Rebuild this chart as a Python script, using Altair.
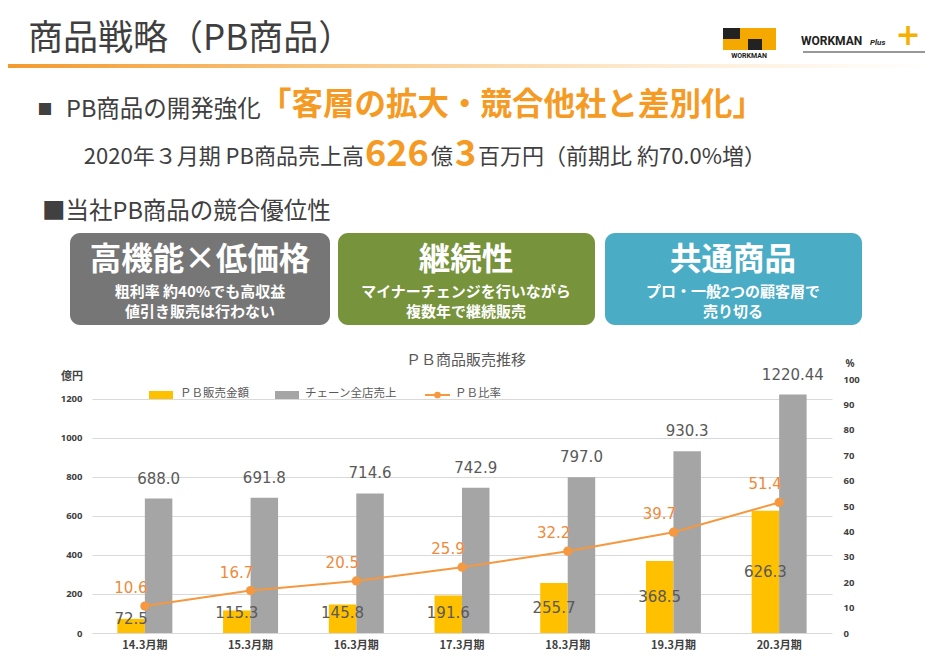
import altair as alt
import pandas as pd

# ---------------- data ----------------
periods = ["14.3月期", "15.3月期", "16.3月期", "17.3月期", "18.3月期", "19.3月期", "20.3月期"]
pb_sales = [72.5, 115.3, 145.8, 191.6, 255.7, 368.5, 626.3]          # 億円
chain_sales = [688.0, 691.8, 714.6, 742.9, 797.0, 930.3, 1220.44]    # 億円
pb_ratio = [10.6, 16.7, 20.5, 25.9, 32.2, 39.7, 51.4]                # %
series_names = ["ＰＢ販売金額", "チェーン全店売上", "ＰＢ比率"]
left_ticks = [0, 200, 400, 600, 800, 1000, 1200]
right_ticks = [0, 10, 20, 30, 40, 50, 60, 70, 80, 90, 100]

JP = "Noto Sans CJK JP"
NUM = "DejaVu Sans"
YELLOW = "#FFC000"
GRAY = "#A5A5A5"
ORANGE_LINE = "#F5983F"
ORANGE_TXT = "#EE8A3A"
HEAD_ORANGE = "#F59A23"
DARK = "#404040"

bars_df = pd.DataFrame(
    [{"period": p, "series": series_names[0], "value": v, "label": str(v)} for p, v in zip(periods, pb_sales)]
    + [{"period": p, "series": series_names[1], "value": v, "label": str(v)} for p, v in zip(periods, chain_sales)]
)
ratio_df = pd.DataFrame({"period": periods, "ratio": pb_ratio})
one = pd.DataFrame({"k": [0]})

# plot area origin on the page
OX, OY = 92, 379


def px(x):
    return x - OX


def py(y):
    return y - OY


def txt(s, x, y, size, color=DARK, weight="normal", align="left", font=JP, baseline="middle", style="normal"):
    return alt.Chart(one).mark_text(
        text=s, fontSize=size, color=color, fontWeight=weight, align=align,
        baseline=baseline, font=font, fontStyle=style
    ).encode(x=alt.value(px(x)), y=alt.value(py(y)))


def box(x1, x2, y1, y2, color, radius=0):
    return alt.Chart(one).mark_rect(color=color, cornerRadius=radius).encode(
        x=alt.value(px(x1)), x2=alt.value(px(x2)), y=alt.value(py(y1)), y2=alt.value(py(y2))
    )


X = alt.X(
    "period:N", sort=periods,
    scale=alt.Scale(paddingInner=0.48, paddingOuter=0.24),
    axis=alt.Axis(title=None, labelFont=JP, labelFontSize=11, labelFontWeight="bold",
                  labelColor=DARK, labelPadding=6, labelAngle=0, domain=False, ticks=False),
)
XO = alt.XOffset("series:N", sort=series_names[:2], scale=alt.Scale(paddingInner=0, paddingOuter=0))

Y_left_scale = alt.Scale(domain=[0, 1300], nice=False)

bars = alt.Chart(bars_df).mark_bar().encode(
    x=X, xOffset=XO,
    y=alt.Y("value:Q", scale=Y_left_scale,
            axis=alt.Axis(values=left_ticks, format="d", title=None, grid=True, gridColor="#D9D9D9",
                          domain=False, ticks=False, labelPadding=10, labelFont="Noto Sans",
                          labelFontSize=9.5, labelFontWeight="bold", labelColor=DARK, orient="left")),
    color=alt.Color("series:N", scale=alt.Scale(domain=series_names[:2], range=[YELLOW, GRAY]), legend=None),
)

pb_labels = alt.Chart(bars_df).transform_filter(
    alt.datum.series == series_names[0]
).transform_calculate(
    ly="max(datum.value / 2, min(datum.value, 100))"
).mark_text(font=NUM, fontSize=15, color="#595959", baseline="middle").encode(
    x=X, xOffset=XO, y=alt.Y("ly:Q", scale=Y_left_scale), text="label:N"
)

chain_labels = alt.Chart(bars_df).transform_filter(
    alt.datum.series == series_names[1]
).mark_text(font=NUM, fontSize=15, color="#595959", baseline="middle", dy=-20).encode(
    x=X, xOffset=XO, y=alt.Y("value:Q", scale=Y_left_scale), text="label:N"
)

bar_group = alt.layer(bars, pb_labels, chain_labels)

Y_right = alt.Y("ratio:Q", scale=alt.Scale(domain=[0, 100], nice=False),
                axis=alt.Axis(values=right_ticks, title=None, grid=False, domain=False, ticks=False,
                              labelPadding=11, labelFont="Noto Sans", labelFontSize=9.5,
                              labelFontWeight="bold", labelColor=DARK, orient="right"))

line = alt.Chart(ratio_df).mark_line(color=ORANGE_LINE, strokeWidth=2).encode(x=X, y=Y_right)
pts = alt.Chart(ratio_df).mark_point(color=ORANGE_LINE, filled=True, opacity=1, size=85).encode(x=X, y=Y_right)
ratio_labels = alt.Chart(ratio_df).mark_text(
    font=NUM, fontSize=15, color=ORANGE_TXT, dx=-14, dy=-18, baseline="middle"
).encode(x=X, y=Y_right, text=alt.Text("ratio:Q", format=".1f"))

line_group = alt.layer(line, pts, ratio_labels)

# ---------------- slide decorations ----------------
grad = alt.Chart(one).mark_rect(
    color=alt.Gradient(gradient="linear", x1=0, x2=1, y1=0, y2=0, stops=[
        alt.GradientStop(color="#F39A2E", offset=0),
        alt.GradientStop(color="#F9C784", offset=0.35),
        alt.GradientStop(color="#FDEBD2", offset=0.7),
        alt.GradientStop(color="#FFFFFF", offset=1),
    ])
).encode(x=alt.value(px(8)), x2=alt.value(px(929)), y=alt.value(py(64)), y2=alt.value(py(68)))

deco = [
    grad,
    txt("商品戦略（PB商品）", 28, 39, 35, color="#3F3F3F"),
    # logos (approximation)
    box(723, 776, 28, 50, "#F5A800"),
    box(723, 740, 28, 39, "#222222"),
    box(748, 762, 39, 50, "#222222"),
    txt("WORKMAN", 749, 56, 7, color="#222222", weight="bold", align="center", font="Roboto"),
    txt("WORKMAN", 801, 41, 12, color="#222222", weight="bold", font="Roboto"),
    txt("Plus", 870, 43, 8, color="#222222", weight="bold", style="italic", font="Roboto"),
    txt("+", 908, 36, 30, color="#F5B000", weight="bold", align="center", font="DejaVu Sans"),
    alt.Chart(one).mark_rule(color="#333333", strokeWidth=1.2).encode(
        x=alt.value(px(803)), x2=alt.value(px(925)), y=alt.value(py(52))),
    # headline
    txt("■", 45, 110, 15, align="center"),
    txt("PB商品の開発強化", 66, 110, 23.5),
    txt("「客層の拡大・競合他社と差別化」", 260, 106, 31.5, color=HEAD_ORANGE, weight="bold"),
    txt("2020年３月期  PB商品売上高", 364, 164, 22, align="right", baseline="alphabetic"),
    txt("626", 365, 166, 36, color=HEAD_ORANGE, weight="bold", baseline="alphabetic"),
    txt("億", 431, 164, 22, baseline="alphabetic"),
    txt("3", 455, 166, 36, color=HEAD_ORANGE, weight="bold", baseline="alphabetic"),
    txt("百万円（前期比  約70.0%増）", 478, 164, 22, baseline="alphabetic"),
    txt("■当社PB商品の競合優位性", 42, 212, 23.5),
    # three boxes
    box(70, 330, 233, 325, "#767676", 10),
    box(338, 595, 233, 325, "#77933C", 10),
    box(605, 862, 233, 325, "#4BACC6", 10),
    txt("高機能×低価格", 200, 261, 31.5, color="white", weight="bold", align="center"),
    txt("粗利率 約40%でも高収益", 200, 292, 15, color="white", weight="bold", align="center"),
    txt("値引き販売は行わない", 200, 312, 15, color="white", weight="bold", align="center"),
    txt("継続性", 466, 261, 31.5, color="white", weight="bold", align="center"),
    txt("マイナーチェンジを行いながら", 466, 292, 15, color="white", weight="bold", align="center"),
    txt("複数年で継続販売", 466, 312, 15, color="white", weight="bold", align="center"),
    txt("共通商品", 733, 261, 31.5, color="white", weight="bold", align="center"),
    txt("プロ・一般2つの顧客層で", 733, 292, 15, color="white", weight="bold", align="center"),
    txt("売り切る", 733, 312, 15, color="white", weight="bold", align="center"),
    # chart title, units, legend
    txt("ＰＢ商品販売推移", 466, 360, 15, color="#595959", align="center"),
    txt("億円", 72, 377, 11, weight="bold", align="center"),
    txt("%", 850, 364, 10, weight="bold", align="center", font="Noto Sans"),
    box(149, 173, 391, 399, YELLOW),
    txt(series_names[0], 180, 394, 11.5, color="#595959"),
    box(275, 299, 391, 399, GRAY),
    txt(series_names[1], 305, 394, 11.5, color="#595959"),
    alt.Chart(one).mark_rule(color=ORANGE_LINE, strokeWidth=2).encode(
        x=alt.value(px(425)), x2=alt.value(px(450)), y=alt.value(py(395))),
    alt.Chart(one).mark_point(color=ORANGE_LINE, filled=True, opacity=1, size=45).encode(
        x=alt.value(px(437.5)), y=alt.value(py(395))),
    txt(series_names[2], 455, 394, 11.5, color="#595959"),
]

chart = alt.layer(bar_group, line_group, *deco).resolve_scale(y="independent").properties(
    width=740, height=254,
    autosize=alt.AutoSizeParams(type="none"),
    padding={"left": 84, "top": 371, "right": 97, "bottom": 18},
    background="white",
).configure_view(stroke=None)

chart.save("out.html", embed_options={"renderer": "svg", "actions": False})
